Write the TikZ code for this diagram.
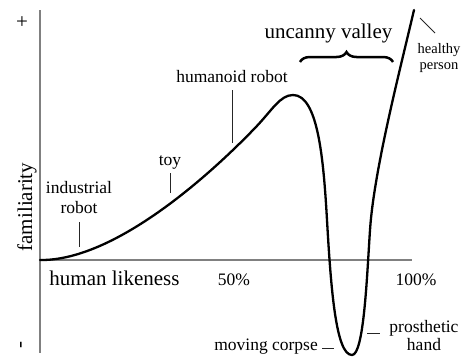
\documentclass[tikz,border=0pt]{standalone}
\usepackage{fontspec}
\setmainfont{Liberation Serif}
\usetikzlibrary{decorations.pathreplacing}

\begin{document}
\begin{tikzpicture}[
    x=1pt, y=-1pt,
    big/.style={font=\fontsize{21}{24}\selectfont, inner sep=0pt},
    lbl/.style={font=\fontsize{17.5}{20}\selectfont, inner sep=0pt},
    sml/.style={font=\fontsize{14.5}{17}\selectfont, inner sep=0pt},
    axis/.style={draw=black!50, line width=1.5pt},
    tick/.style={draw=black!85, line width=1pt},
    curve/.style={draw=black, line width=2.3pt, line cap=round}
]
    \useasboundingbox (0,0) rectangle (461,357);
    % axes
    \coordinate (top) at (40,10);
    \coordinate (bot) at (40,353);
    \coordinate (o) at (40,260);
    \coordinate (xend) at (412,260);
    \draw[axis] (top) -- (bot);
    \draw[axis] (o) -- (xend);
    \node[big] (plus) at (22,23) {+};
    \node[big, rotate=90] (minus) at (23,345) {-};
    \node[big, rotate=90, anchor=base] (fam) at (32,207) {familiarity};
    \node[big, anchor=base] (hl) at (114.5,285) {human likeness};
    \node[lbl, anchor=base] (half) at (234,285) {50\%};
    \node[lbl, anchor=base] (full) at (416,285) {100\%};
    % the curve
    \draw[curve] (o) .. controls (110,261) and (200,185) .. (255,128)
        .. controls (272,110.4) and (280,95) .. (293,95)
        .. controls (318,95) and (323.5,159) .. (327,220)
        .. controls (331,290) and (336,355) .. (352,355)
        .. controls (364,355) and (367,275) .. (370,230)
        .. controls (374,170) and (400,70) .. (414,10);
    % labels
    \node[lbl, anchor=base] (ind) at (79,193) {industrial};
    \node[lbl, anchor=base] (rob) at (79,213) {robot};
    \coordinate (indA) at (79,222);
    \coordinate (indB) at (79,247);
    \draw[tick] (indA) -- (indB);
    \node[lbl, anchor=base] (toy) at (170,165) {toy};
    \coordinate (toyA) at (170,173);
    \coordinate (toyB) at (170,193);
    \draw[tick] (toyA) -- (toyB);
    \node[lbl, anchor=base] (hum) at (232,82) {humanoid robot};
    \coordinate (humA) at (232,90);
    \coordinate (humB) at (232,143);
    \draw[tick] (humA) -- (humB);
    \node[big, anchor=base] (uv) at (328.5,38) {uncanny valley};
    \coordinate (brL) at (300,62);
    \coordinate (brR) at (393,62);
    \draw[decorate, decoration={brace, amplitude=10pt}, line width=2.5pt] (brL) -- (brR);
    \node[sml, anchor=base] (hea) at (439,53) {healthy};
    \node[sml, anchor=base] (per) at (439,69) {person};
    \coordinate (heaA) at (420,18);
    \coordinate (heaB) at (435,33);
    \draw[tick] (heaA) -- (heaB);
    \node[lbl, anchor=base] (pro) at (424,332) {prosthetic};
    \node[lbl, anchor=base] (hand) at (424,350) {hand};
    \coordinate (proA) at (367,333);
    \coordinate (proB) at (380,333);
    \draw[tick] (proA) -- (proB);
    \node[lbl, anchor=base east] (mc) at (318,350) {moving corpse};
    \coordinate (mcA) at (322,348);
    \coordinate (mcB) at (334,348);
    \draw[tick] (mcA) -- (mcB);
\end{tikzpicture}
\end{document}
